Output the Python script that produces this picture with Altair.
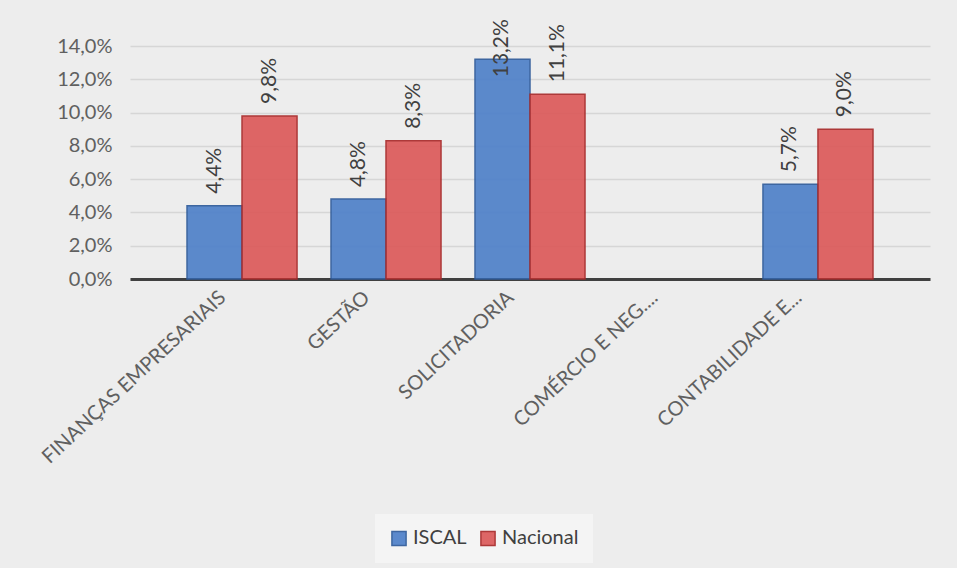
import altair as alt
import pandas as pd

categorias = ["FINANÇAS EMPRESARIAIS", "GESTÃO", "SOLICITADORIA", "COMÉRCIO E NEG....", "CONTABILIDADE E..."]
iscal = [4.4, 4.8, 13.2, None, 5.7]
nacional = [9.8, 8.3, 11.1, None, 9.0]
series = ["ISCAL", "Nacional"]
y_ticks = [0, 2, 4, 6, 8, 10, 12, 14]
cores = ["#4f81c9", "#dc5a5a"]
bordas = ["#2f5b9a", "#a82a2a"]

rows = []
for c, a, b in zip(categorias, iscal, nacional):
    for s, v in zip(series, [a, b]):
        if v is not None:
            rows.append({"cat": c, "serie": s, "valor": v,
                         "rotulo": f"{v:.1f}%".replace(".", ",")})
df = pd.DataFrame(rows)

FONT = "Lato, sans-serif"

x = alt.X("cat:N", title=None,
          scale=alt.Scale(domain=categorias, paddingInner=0.236, paddingOuter=0.396),
          axis=alt.Axis(labelAngle=-43, labelFontSize=20, labelColor="#606060",
                        labelFont=FONT, ticks=False, domain=True, domainColor="#404040",
                        domainWidth=3, labelPadding=8, labelOffset=-26, labelLimit=300))
xo = alt.XOffset("serie:N", scale=alt.Scale(domain=series))
y_axis = alt.Axis(values=y_ticks,
                  labelExpr="replace(format(datum.value, '.1f'), '.', ',') + '%'",
                  labelFontSize=20, labelColor="#606060", labelFont=FONT,
                  labelOverlap=False,
                  ticks=False, domain=False, gridColor="#d6d6d6", gridWidth=1.5,
                  labelPadding=18)
y_scale = alt.Scale(domain=[0, 14])

base = alt.Chart(df)
bars = base.mark_bar(strokeWidth=1.5, opacity=0.92).encode(
    x=x, xOffset=xo,
    y=alt.Y("valor:Q", title=None, scale=y_scale, axis=y_axis),
    color=alt.Color("serie:N", title=None,
                    scale=alt.Scale(domain=series, range=cores),
                    legend=alt.Legend(orient="none", legendX=245, legendY=468,
                                      direction="horizontal", symbolType="square",
                                      symbolSize=200, symbolStrokeWidth=1.5,
                                      labelFontSize=20, labelColor="#404040",
                                      labelFont=FONT, fillColor="#f4f4f4",
                                      padding=14, columnPadding=10, labelOffset=4)),
    stroke=alt.Stroke("serie:N", scale=alt.Scale(domain=series, range=bordas), legend=None),
)
labels = base.transform_calculate(
    ypos="min(datum.valor, 11.4)"
).mark_text(angle=270, align="left", baseline="middle", dx=12,
            fontSize=21, color="#404040", font=FONT).encode(
    x=x, xOffset=xo,
    y=alt.Y("ypos:Q", title=None, scale=y_scale, axis=y_axis),
    text="rotulo:N")

chart = (bars + labels).properties(
    width=800, height=233,
    autosize=alt.AutoSizeParams(type="none"),
    padding={"left": 130, "top": 46, "right": 27, "bottom": 289},
    background="#ededed",
).configure_view(stroke=None)

chart.save("out.html", embed_options={"renderer": "svg", "actions": False})
